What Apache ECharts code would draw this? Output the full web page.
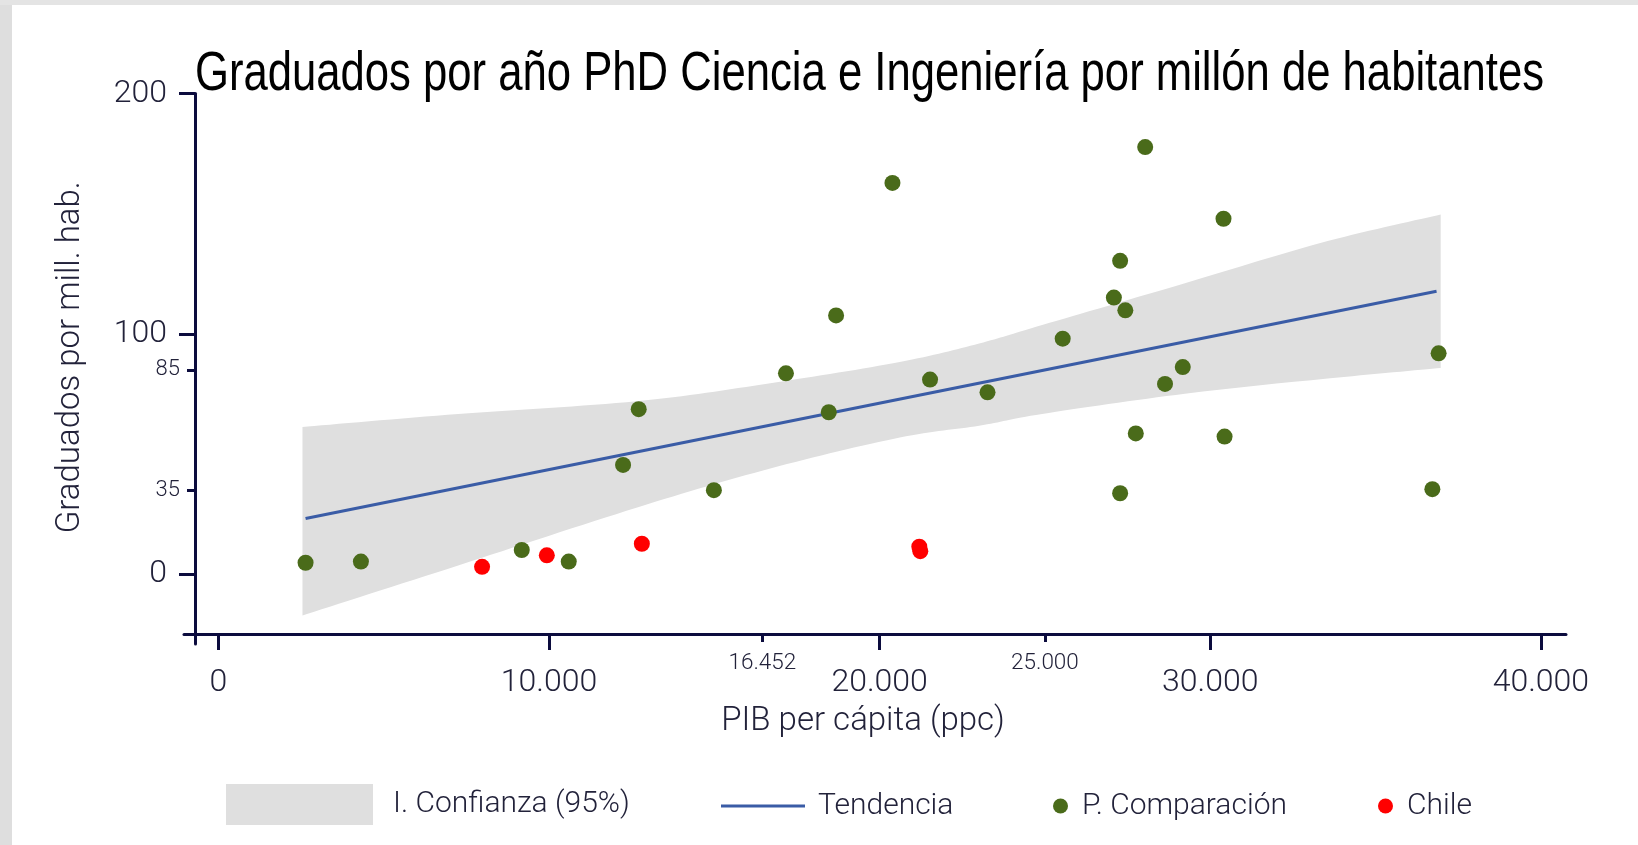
<!DOCTYPE html>
<html>
<head>
<meta charset="utf-8">
<script src="https://cdn.jsdelivr.net/npm/echarts@6/dist/echarts.min.js"></script>
<style>
  html, body { margin: 0; padding: 0; background: #fff; }
  #chart { width: 1638px; height: 845px; }
</style>
</head>
<body>
<div id="chart"></div>
<script>
// PIB per capita (ppc) / graduados por mill. hab.
const compX = [2637, 4311, 9176, 10597, 12240, 12713, 14987, 17167, 18462, 18683, 20388, 21525, 23263,
  25537, 27085, 27274, 27432, 27274, 27748, 28032, 28632, 29169, 30401, 30433, 36718, 36907];
const compY = [4.8, 5.3, 10.1, 5.3, 45.5, 68.7, 35.0, 83.6, 67.4, 107.7, 162.8, 81.0, 75.7,
  98.0, 115.1, 130.4, 109.8, 33.7, 58.6, 177.7, 79.2, 86.2, 147.9, 57.3, 35.4, 91.9];
const chileX = [7976, 9934, 12808, 21200, 21230];
const chileY = [3.1, 7.9, 12.7, 11.5, 9.6];

const trendX = [2637, 36845];
const trendY = [23.2, 117.7];

const bandX = [2543, 7253, 12644, 16693, 20609, 23010, 24915, 29233, 33551, 36970];
const bandUpper = [61.3, 66.7, 72.0, 79.5, 88.3, 96.0, 103.7, 121.1, 138.6, 149.7];
const bandLower = [-17.1, 3.7, 27.7, 44.0, 56.9, 61.8, 66.7, 75.1, 81.4, 85.8];

const xMajorTicks = [0, 10000, 20000, 30000, 40000];
const xMinorTicks = [16452, 25000];
const yMajorTicks = [0, 100, 200];
const yMinorTicks = [35, 85];

const titleText = "Graduados por año PhD Ciencia e Ingeniería por millón de habitantes";

const axisColor = "#0c0c3e";
const labelColor = "#22223a";
const font = "Roboto, 'Liberation Sans', sans-serif";

const fmt = (v) => String(v).replace(/\B(?=(\d{3})+(?!\d))/g, ".");

// title is a narrow face in the original: squeeze a normal one to the same width
const ctx = document.createElement("canvas").getContext("2d");
ctx.font = "55px 'Liberation Sans'";
const titleScale = 1349 / ctx.measureText(titleText).width;

// smooth curve through pixel points (catmull-rom as cubic beziers)
function curveThrough(pts) {
  let d = "";
  for (let i = 0; i < pts.length - 1; i++) {
    const p0 = pts[Math.max(i - 1, 0)];
    const p1 = pts[i];
    const p2 = pts[i + 1];
    const p3 = pts[Math.min(i + 2, pts.length - 1)];
    const c1 = [p1[0] + (p2[0] - p0[0]) / 6, p1[1] + (p2[1] - p0[1]) / 6];
    const c2 = [p2[0] - (p3[0] - p1[0]) / 6, p2[1] - (p3[1] - p1[1]) / 6];
    d += " C" + c1[0] + "," + c1[1] + " " + c2[0] + "," + c2[1] + " " + p2[0] + "," + p2[1];
  }
  return d;
}

const chart = echarts.init(document.getElementById("chart"));

const baseX = {
  type: "value",
  gridIndex: 0,
  position: "bottom",
  offset: -10,
  min: -1040,
  max: 40760,
  splitLine: { show: false },
};
const baseY = {
  type: "value",
  gridIndex: 0,
  position: "left",
  offset: -11,
  min: -29,
  max: 200,
  splitLine: { show: false },
};

const legendText = { fontFamily: font, fontWeight: 300, fontSize: 30, color: labelColor };

const option = {
  backgroundColor: "#ffffff",
  animation: false,
  graphic: [
    { type: "rect", shape: { x: 0, y: 0, width: 12, height: 845 }, style: { fill: "#dedede" }, silent: true },
    { type: "rect", shape: { x: 0, y: 0, width: 1638, height: 5 }, style: { fill: "#e4e4e4" }, silent: true },
    {
      type: "text",
      x: 195,
      y: 47,
      scaleX: titleScale,
      style: {
        text: titleText,
        fontFamily: "'Liberation Sans', Arial, sans-serif",
        fontSize: 55,
        fill: "#000",
        verticalAlign: "top",
      },
      silent: true,
    },
  ],
  grid: { left: 184, right: 72, top: 93.5, bottom: 201 },
  xAxis: [
    Object.assign({}, baseX, {
      name: "PIB per cápita (ppc)",
      nameLocation: "middle",
      nameGap: 71,
      nameTextStyle: { fontFamily: font, fontWeight: 300, fontSize: 33, color: labelColor, padding: [0, 24, 0, 0] },
      axisLine: { show: true, onZero: false, lineStyle: { color: axisColor, width: 3 } },
      axisTick: { show: true, customValues: xMajorTicks, length: 16, lineStyle: { color: axisColor, width: 3 } },
      axisLabel: {
        customValues: xMajorTicks,
        margin: 33,
        fontFamily: font,
        fontWeight: 300,
        fontSize: 32,
        color: labelColor,
        formatter: fmt,
      },
    }),
    Object.assign({}, baseX, {
      axisLine: { show: false, onZero: false },
      axisTick: { show: true, customValues: xMinorTicks, length: 8, lineStyle: { color: axisColor, width: 3 } },
      axisLabel: {
        customValues: xMinorTicks,
        margin: 18,
        fontFamily: font,
        fontWeight: 300,
        fontSize: 22.5,
        color: labelColor,
        formatter: fmt,
      },
    }),
  ],
  yAxis: [
    Object.assign({}, baseY, {
      name: "Graduados por mill. hab.",
      nameLocation: "middle",
      nameRotate: 90,
      nameGap: 108,
      nameTextStyle: { fontFamily: font, fontWeight: 300, fontSize: 33, color: labelColor, padding: [0, 0, 0, 23] },
      axisLine: { show: true, onZero: false, lineStyle: { color: axisColor, width: 3 } },
      axisTick: { show: true, customValues: yMajorTicks, length: 16, lineStyle: { color: axisColor, width: 3 } },
      axisLabel: {
        customValues: yMajorTicks,
        margin: 28,
        fontFamily: font,
        fontWeight: 300,
        fontSize: 32,
        color: labelColor,
      },
    }),
    Object.assign({}, baseY, {
      axisLine: { show: false, onZero: false },
      axisTick: { show: true, customValues: yMinorTicks, length: 8, lineStyle: { color: axisColor, width: 3 } },
      axisLabel: {
        customValues: yMinorTicks,
        margin: 15,
        fontFamily: font,
        fontWeight: 300,
        fontSize: 22,
        color: labelColor,
      },
    }),
  ],
  legend: [
    {
      data: ["I. Confianza (95%)"],
      left: 226, top: 784, padding: 0,
      icon: "rect", itemWidth: 147, itemHeight: 41,
      textStyle: Object.assign({ padding: [0, 0, 0, 15] }, legendText),
    },
    {
      data: ["Tendencia"],
      left: 721, top: 791, padding: 0,
      icon: "rect", itemWidth: 84, itemHeight: 3,
      textStyle: Object.assign({ padding: [0, 0, 0, 8] }, legendText),
    },
    {
      data: ["P. Comparación"],
      left: 1053, top: 791, padding: 0,
      icon: "circle", itemWidth: 15, itemHeight: 15,
      textStyle: Object.assign({ padding: [0, 0, 0, 9] }, legendText),
    },
    {
      data: ["Chile"],
      left: 1378, top: 791, padding: 0,
      icon: "circle", itemWidth: 15, itemHeight: 15,
      textStyle: Object.assign({ padding: [0, 0, 0, 9] }, legendText),
    },
  ],
  series: [
    {
      name: "I. Confianza (95%)",
      type: "custom",
      xAxisIndex: 0,
      yAxisIndex: 0,
      z: 1,
      itemStyle: { color: "#dfdfdf" },
      data: [[bandX[0], bandUpper[0]]],
      renderItem: function (params, api) {
        const up = bandX.map((x, i) => api.coord([x, bandUpper[i]]));
        const low = bandX.map((x, i) => api.coord([x, bandLower[i]])).reverse();
        const d = "M" + up[0][0] + "," + up[0][1] + curveThrough(up) +
          " L" + low[0][0] + "," + low[0][1] + curveThrough(low) + " Z";
        return {
          type: "path",
          shape: { pathData: d },
          style: { fill: "#dfdfdf" },
        };
      },
    },
    {
      name: "Tendencia",
      type: "line",
      xAxisIndex: 0,
      yAxisIndex: 0,
      z: 2,
      symbol: "none",
      itemStyle: { color: "#3a5ca6" },
      lineStyle: { color: "#3a5ca6", width: 3 },
      data: trendX.map((x, i) => [x, trendY[i]]),
    },
    {
      name: "P. Comparación",
      type: "scatter",
      xAxisIndex: 0,
      yAxisIndex: 0,
      z: 3,
      symbol: "circle",
      symbolSize: 16,
      itemStyle: { color: "#4a6b1a", opacity: 1 },
      data: compX.map((x, i) => [x, compY[i]]),
    },
    {
      name: "Chile",
      type: "scatter",
      xAxisIndex: 0,
      yAxisIndex: 0,
      z: 4,
      symbol: "circle",
      symbolSize: 16,
      itemStyle: { color: "#ff0000", opacity: 1 },
      data: chileX.map((x, i) => [x, chileY[i]]),
    },
  ],
};

chart.setOption(option);
</script>
</body>
</html>
